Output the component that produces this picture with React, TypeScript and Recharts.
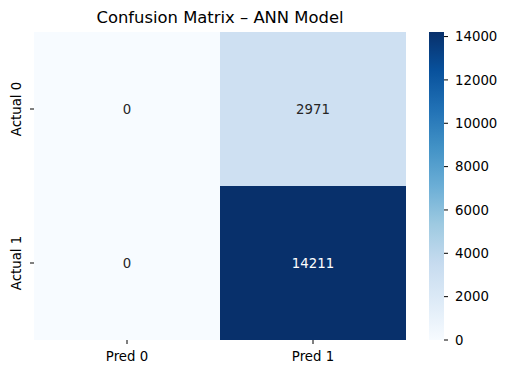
import React from "react";
import {
  BarChart,
  Bar,
  XAxis,
  YAxis,
  Cell,
  LabelList,
} from "recharts";

const predLabels = ["Pred 0", "Pred 1"];
const actualLabels = ["Actual 0", "Actual 1"];
const actual0Counts = [0, 2971];
const actual1Counts = [0, 14211];
const colorbarTicks = [0, 2000, 4000, 6000, 8000, 10000, 12000, 14000];

// matplotlib "Blues" stops
const blues = [
  "#f7fbff",
  "#deebf7",
  "#c6dbef",
  "#9ecae1",
  "#6baed6",
  "#4292c6",
  "#2171b5",
  "#08519c",
  "#08306b",
];

const vmax = Math.max(...actual0Counts, ...actual1Counts);
const FONT = "'DejaVu Sans', sans-serif";

const hexToRgb = (h: string) => [
  parseInt(h.slice(1, 3), 16),
  parseInt(h.slice(3, 5), 16),
  parseInt(h.slice(5, 7), 16),
];

const blueRgb = (v: number) => {
  const t = Math.min(1, Math.max(0, v / vmax)) * (blues.length - 1);
  const i = Math.min(blues.length - 2, Math.floor(t));
  const f = t - i;
  const a = hexToRgb(blues[i]);
  const b = hexToRgb(blues[i + 1]);
  return a.map((c, k) => Math.round(c + (b[k] - c) * f));
};

const blueColor = (v: number) => {
  const [r, g, b] = blueRgb(v);
  return `rgb(${r},${g},${b})`;
};

const isDark = (v: number) => {
  const lum = blueRgb(v).map((c) => {
    const s = c / 255;
    return s <= 0.03928 ? s / 12.92 : Math.pow((s + 0.055) / 1.055, 2.4);
  });
  return 0.2126 * lum[0] + 0.7152 * lum[1] + 0.0722 * lum[2] < 0.408;
};

const data = predLabels.map((p, i) => ({
  pred: p,
  row1: 1,
  row0: 1,
  c0: actual0Counts[i],
  c1: actual1Counts[i],
}));

const YTick = (props: any) => {
  const { x, y, payload } = props;
  const label = payload.value > 1 ? actualLabels[0] : actualLabels[1];
  const tx = x - 12;
  return (
    <text
      x={tx}
      y={y}
      transform={`rotate(-90 ${tx} ${y})`}
      textAnchor="middle"
      dominantBaseline="central"
      fontSize={13.3}
      fontFamily={FONT}
      fill="#000"
    >
      {label}
    </text>
  );
};

const Annot = (props: any) => {
  const { x, y, width, height, value } = props;
  return (
    <text
      x={x + width / 2}
      y={y + height / 2}
      textAnchor="middle"
      dominantBaseline="central"
      fontSize={13.3}
      fontFamily={FONT}
      fill={isDark(value) ? "#ffffff" : "#262626"}
    >
      {value}
    </text>
  );
};

export default function App() {
  return (
    <div
      style={{
        position: "absolute",
        left: 0,
        top: 0,
        width: 507,
        height: 374,
        background: "#fff",
        fontFamily: FONT,
      }}
    >
      <div
        style={{
          position: "absolute",
          left: 34,
          width: 372,
          top: 8,
          textAlign: "center",
          fontSize: 16.4,
          lineHeight: "19px",
          color: "#000",
        }}
      >
        Confusion Matrix – ANN Model
      </div>

      <div style={{ position: "absolute", left: 0, top: 0 }}>
        <BarChart
          width={507}
          height={374}
          data={data}
          margin={{ top: 32, right: 101, bottom: 0, left: 0 }}
          barCategoryGap={0}
          barGap={0}
        >
          <XAxis
            dataKey="pred"
            height={34}
            tickSize={4}
            tickMargin={8}
            axisLine={false}
            tickLine={{ stroke: "#000" }}
            tick={{ fill: "#000", fontSize: 13.3, fontFamily: FONT }}
            interval={0}
          />
          <YAxis
            type="number"
            domain={[0, 2]}
            ticks={[0.5, 1.5]}
            width={34}
            tickSize={4}
            axisLine={false}
            tickLine={{ stroke: "#000" }}
            tick={<YTick />}
            interval={0}
          />
          <Bar dataKey="row1" stackId="m" isAnimationActive={false}>
            {data.map((d, i) => (
              <Cell key={i} fill={blueColor(d.c1)} />
            ))}
            <LabelList dataKey="c1" content={<Annot />} />
          </Bar>
          <Bar dataKey="row0" stackId="m" isAnimationActive={false}>
            {data.map((d, i) => (
              <Cell key={i} fill={blueColor(d.c0)} />
            ))}
            <LabelList dataKey="c0" content={<Annot />} />
          </Bar>
        </BarChart>
      </div>

      <div style={{ position: "absolute", left: 0, top: 0 }}>
        <BarChart
          width={507}
          height={374}
          data={[{ name: "cb", v: vmax }]}
          margin={{ top: 32, right: 0, bottom: 34, left: 429 }}
          barCategoryGap={0}
        >
          <defs>
            <linearGradient id="bluesGrad" x1="0" y1="1" x2="0" y2="0">
              {blues.map((c, i) => (
                <stop key={i} offset={i / (blues.length - 1)} stopColor={c} />
              ))}
            </linearGradient>
          </defs>
          <XAxis dataKey="name" hide />
          <YAxis
            orientation="right"
            type="number"
            domain={[0, vmax]}
            ticks={colorbarTicks}
            width={63}
            tickSize={4}
            tickMargin={7}
            axisLine={false}
            tickLine={{ stroke: "#000" }}
            tick={{ fill: "#000", fontSize: 13.3, fontFamily: FONT }}
            interval={0}
          />
          <Bar dataKey="v" fill="url(#bluesGrad)" isAnimationActive={false} />
        </BarChart>
      </div>
    </div>
  );
}
